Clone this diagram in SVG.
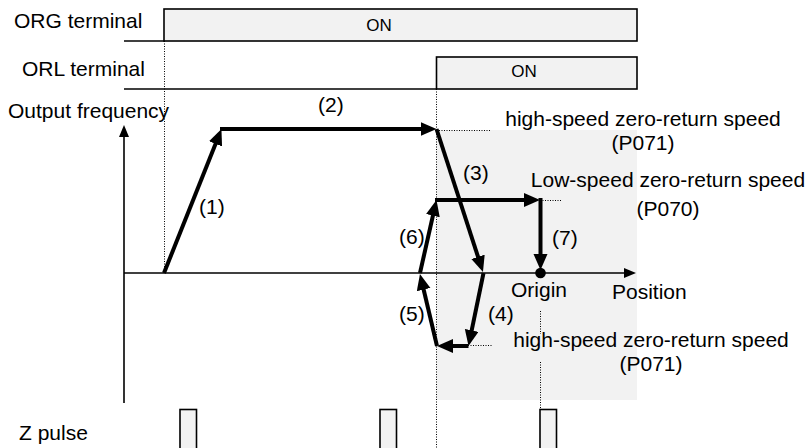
<svg xmlns="http://www.w3.org/2000/svg" width="809" height="448" viewBox="0 0 809 448">
<style>
text{font-family:"Liberation Sans",Arial,Helvetica,sans-serif;font-size:21px;fill:#000}
.on{font-size:17px}
.box{fill:#f2f2f2;stroke:#000;stroke-width:1.6}
.thin{fill:none;stroke:#000;stroke-width:1.6}
.dot{fill:none;stroke:#000;stroke-width:1;stroke-dasharray:1 1.5}
.thick{fill:none;stroke:#000;stroke-width:4;stroke-linejoin:miter}
</style>
<defs>
<marker id="ah" markerUnits="userSpaceOnUse" markerWidth="18" markerHeight="16" refX="8" refY="7" orient="auto">
<path d="M0,0 L16,7 L0,14 z" fill="#000"/>
</marker>
<marker id="ax" markerUnits="userSpaceOnUse" markerWidth="14" markerHeight="12" refX="8" refY="5" orient="auto">
<path d="M0,0 L12,5 L0,10 z" fill="#000"/>
</marker>
</defs>
<rect x="0" y="0" width="809" height="448" fill="#fff"/>
<rect id="zone" x="436.5" y="130" width="200.5" height="270" fill="#f2f2f2"/>
<g id="org">
<text x="14" y="28">ORG terminal</text>
<rect class="box" x="164" y="9" width="473" height="32"/>
<line class="thin" x1="124" y1="41" x2="164" y2="41"/>
<text class="on" x="379" y="31" text-anchor="middle">ON</text>
</g>
<g id="orl">
<text x="22" y="76">ORL terminal</text>
<rect class="box" x="436.5" y="57" width="200.5" height="32"/>
<line class="thin" x1="124" y1="89" x2="436.5" y2="89"/>
<text class="on" x="524" y="77" text-anchor="middle">ON</text>
</g>
<g id="guides">
<line class="dot" x1="164.5" y1="41" x2="164.5" y2="273"/>
<line class="dot" x1="436.5" y1="89" x2="436.5" y2="448"/>
<line class="dot" x1="436.5" y1="130.5" x2="491" y2="130.5"/>
<line class="dot" x1="540" y1="200.5" x2="561" y2="200.5"/>
<line class="dot" x1="468" y1="345.5" x2="492" y2="345.5"/>
<line class="dot" x1="540.5" y1="311" x2="540.5" y2="334"/>
<line class="dot" x1="540.5" y1="362" x2="540.5" y2="409"/>
</g>
<g id="axes">
<line class="thin" x1="124" y1="403" x2="124" y2="129" marker-end="url(#ax)"/>
<line class="thin" x1="124" y1="273" x2="632" y2="273" marker-end="url(#ax)"/>
<text x="8" y="118">Output frequency</text>
<text x="612" y="299">Position</text>
<text x="511" y="297">Origin</text>
</g>
<g id="connectors">
<line class="thick" x1="164" y1="273" x2="218.5" y2="136.4" marker-end="url(#ah)"/>
<line class="thick" x1="220" y1="129" x2="428.5" y2="129" marker-end="url(#ah)"/>
<line class="thick" x1="436.5" y1="129" x2="480.5" y2="264.4" marker-end="url(#ah)"/>
<line class="thick" x1="483.5" y1="273" x2="470.1" y2="338.2" marker-end="url(#ah)"/>
<line class="thick" x1="468.5" y1="346" x2="445" y2="346" marker-end="url(#ah)"/>
<line class="thick" x1="437" y1="346" x2="421.8" y2="281.8" marker-end="url(#ah)"/>
<line class="thick" x1="420" y1="273" x2="434.7" y2="207.8" marker-end="url(#ah)"/>
<line class="thick" x1="435" y1="200" x2="532" y2="200" marker-end="url(#ah)"/>
<line class="thick" x1="540.5" y1="198" x2="540.5" y2="262" marker-end="url(#ah)"/>
<circle cx="540.5" cy="273" r="5.3" fill="#000"/>
</g>
<g id="labels">
<text x="199" y="214">(1)</text>
<text x="318" y="112">(2)</text>
<text x="463" y="180">(3)</text>
<text x="488" y="321">(4)</text>
<text x="399" y="321">(5)</text>
<text x="399" y="244">(6)</text>
<text x="552" y="245">(7)</text>
<text x="643" y="126" text-anchor="middle">high-speed zero-return speed</text>
<text x="643" y="150" text-anchor="middle">(P071)</text>
<text x="668" y="187" text-anchor="middle">Low-speed zero-return speed</text>
<text x="668" y="216" text-anchor="middle">(P070)</text>
<text x="651" y="347" text-anchor="middle">high-speed zero-return speed</text>
<text x="651" y="371" text-anchor="middle">(P071)</text>
</g>
<g id="zpulse">
<text x="19" y="440">Z pulse</text>
<rect class="box" x="180" y="409.5" width="16.5" height="45"/>
<rect class="box" x="380" y="409.5" width="16.5" height="45"/>
<rect class="box" x="540" y="409.5" width="16.5" height="45"/>
</g>
</svg>
